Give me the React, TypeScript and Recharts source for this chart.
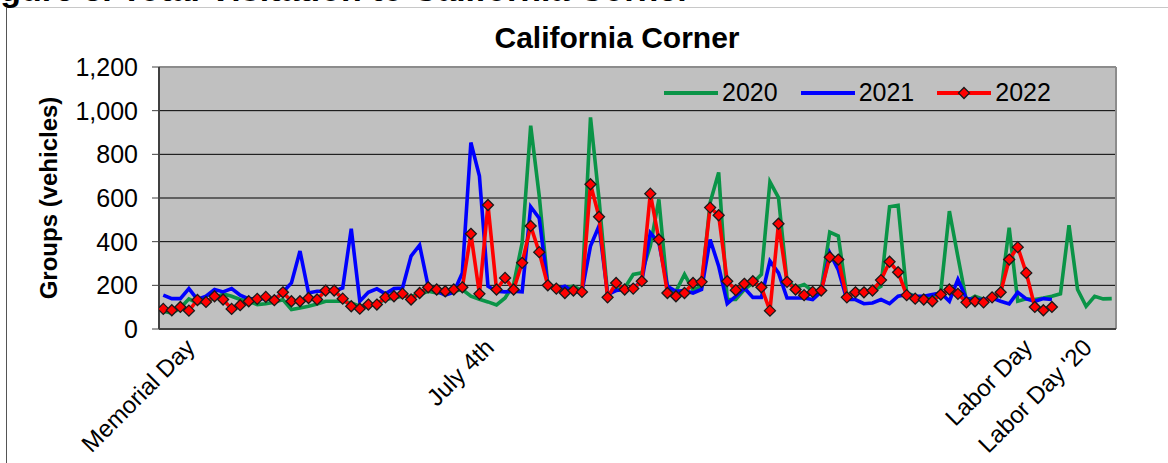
import { LineChart, Line, XAxis, YAxis, CartesianGrid, ReferenceLine, Legend } from "recharts";

// visitor groups per day, day 0 = Memorial Day
const visits2020 = [
  81, 73, 96, 138, 119, 127, 142, 161, 150, 135, 127, 112, 116, 122, 135, 89, 96, 104, 114, 127,
  127, 127, 119, 104, 107, 119, 135, 142, 150, 150, 158, 173, 165, 168, 173, 181, 150, 136, 124, 110,
  142, 204, 395, 931, 609, 204, 181, 188, 196, 176, 969, 594, 158, 181, 188, 250, 257, 380, 594, 181,
  173, 250, 178, 196, 579, 717, 135, 135, 181, 211, 250, 674, 602, 219, 190, 204, 173, 181, 444, 426,
  150, 181, 165, 173, 196, 560, 566, 165, 150, 138, 142, 173, 540, 330, 127, 150, 135, 135, 161, 464,
  127, 138, 135, 142, 150, 161, 475, 181, 104, 150, 138, 139,
];

const visits2021 = [
  155, 139, 139, 185, 135, 150, 181, 170, 185, 155, 138, 139, 139, 135, 168, 211, 357, 165, 173, 173,
  173, 188, 459, 127, 168, 184, 161, 185, 188, 334, 384, 196, 173, 155, 168, 257, 854, 700, 196, 173,
  170, 173, 170, 560, 507, 196, 185, 196, 170, 173, 380, 472, 158, 176, 181, 188, 219, 441, 395, 196,
  173, 176, 165, 181, 410, 288, 116, 150, 188, 145, 145, 311, 257, 142, 142, 142, 135, 170, 349, 270,
  135, 135, 116, 119, 135, 116, 150, 158, 150, 150, 158, 165, 127, 227, 139, 135, 135, 142, 127, 115,
  168, 138, 127, 139, 135,
];

const visits2022 = [
  92, 86, 101, 84, 133, 124, 150, 135, 92, 109, 127, 138, 147, 132, 168, 127, 127, 142, 135, 176,
  176, 139, 104, 93, 112, 112, 145, 150, 162, 135, 165, 191, 181, 173, 181, 191, 436, 161, 568, 181,
  234, 181, 303, 472, 352, 200, 185, 165, 176, 170, 663, 514, 145, 211, 181, 185, 219, 620, 410, 165,
  150, 165, 211, 216, 556, 521, 219, 178, 207, 219, 191, 84, 482, 216, 181, 155, 170, 176, 329, 318,
  145, 168, 168, 176, 224, 308, 260, 155, 139, 135, 127, 158, 181, 161, 122, 127, 122, 145, 168, 318,
  375, 257, 101, 86, 101,
];

const holidayDays = [0, 35, 98, 105];
const holidayNames = ["Memorial Day", "July 4th", "Labor Day", "Labor Day '20"];
const yTicks = [0, 200, 400, 600, 800, 1000, 1200];

const series = [
  { key: "y2020", name: "2020", color: "#0A9447", marker: false },
  { key: "y2021", name: "2021", color: "#0000FF", marker: false },
  { key: "y2022", name: "2022", color: "#FF0000", marker: true },
];

const data = visits2020.map((v, day) => ({
  day,
  y2020: v,
  y2021: day < visits2021.length ? visits2021[day] : null,
  y2022: day < visits2022.length ? visits2022[day] : null,
}));

const FONT = "'Liberation Sans', Arial, sans-serif";

const Diamond = (props: any) => {
  const { cx, cy } = props;
  if (cx == null || cy == null) return null;
  const r = 5.5;
  return (
    <path
      d={`M${cx},${cy - r}L${cx + r},${cy}L${cx},${cy + r}L${cx - r},${cy}Z`}
      fill="#FF0000"
      stroke="#1a1a1a"
      strokeWidth={1.3}
    />
  );
};

const HolidayTick = (props: any) => {
  const { x, payload } = props;
  const label = holidayNames[holidayDays.indexOf(payload.value)];
  const ax = x + 33;
  const ay = 349;
  return (
    <text
      x={ax}
      y={ay}
      textAnchor="end"
      transform={`rotate(-45 ${ax} ${ay})`}
      fontFamily={FONT}
      fontSize={24}
      fill="#000"
    >
      {label}
    </text>
  );
};

const LegendBox = () => (
  <div style={{ display: "flex", alignItems: "center", fontFamily: FONT, fontSize: 25, color: "#000" }}>
    {series.map((s) => (
      <div key={s.key} style={{ display: "flex", alignItems: "center", marginRight: 23 }}>
        <svg width={54} height={16}>
          <line x1={0} y1={8} x2={54} y2={8} stroke={s.color} strokeWidth={4} />
          {s.marker && <Diamond cx={27} cy={8} />}
        </svg>
        <span style={{ marginLeft: 4 }}>{s.name}</span>
      </div>
    ))}
  </div>
);

export default function App() {
  return (
    <div
      style={{
        position: "absolute",
        left: 0,
        top: 0,
        width: 1168,
        height: 463,
        background: "#fff",
        overflow: "hidden",
      }}
    >
      <div
        style={{
          position: "absolute",
          left: 6,
          top: 7,
          width: 1200,
          height: 500,
          borderLeft: "1px solid #555",
          borderTop: "1px solid #c8c8c8",
        }}
      />
      <div
        style={{
          position: "absolute",
          left: -30,
          top: -30,
          fontFamily: FONT,
          fontWeight: "bold",
          fontSize: 34,
          whiteSpace: "nowrap",
        }}
      >
        Figure 8. Total Visitation to California Corner
      </div>
      <div
        style={{
          position: "absolute",
          left: 0,
          width: 1234,
          top: 21,
          textAlign: "center",
          fontFamily: FONT,
          fontWeight: "bold",
          fontSize: 30,
        }}
      >
        California Corner
      </div>
      <LineChart width={1168} height={463} data={data} margin={{ top: 67, right: 52, bottom: 0, left: 0 }}>
        <CartesianGrid vertical={false} stroke="#000" strokeWidth={1} fill="#C0C0C0" fillOpacity={1} />
        <XAxis
          dataKey="day"
          type="number"
          domain={[-0.5, 111.5]}
          allowDataOverflow
          ticks={holidayDays}
          interval={0}
          tickLine={false}
          axisLine={{ stroke: "#404040", strokeWidth: 2 }}
          height={134}
          tick={<HolidayTick />}
        />
        <YAxis
          domain={[0, 1200]}
          ticks={yTicks}
          width={159}
          tickSize={7}
          tickMargin={14}
          tickLine={{ stroke: "#404040" }}
          axisLine={{ stroke: "#404040", strokeWidth: 2 }}
          tick={{ fontFamily: FONT, fontSize: 25, fill: "#000" }}
          tickFormatter={(v: number) => v.toLocaleString("en-US")}
          label={{
            value: "Groups (vehicles)",
            angle: -90,
            position: "insideLeft",
            dx: 43,
            style: { fontFamily: FONT, fontWeight: "bold", fontSize: 24, fill: "#000", textAnchor: "middle" },
          }}
        />
        <ReferenceLine y={1200} stroke="#8c8c8c" strokeWidth={2} />
        <ReferenceLine x={111.5} stroke="#8c8c8c" strokeWidth={2} />
        <Legend
          layout="horizontal"
          verticalAlign="middle"
          align="center"
          content={<LegendBox />}
          wrapperStyle={{ left: 664, top: 78, width: "auto" }}
        />
        {series.map((s) => (
          <Line
            key={s.key}
            dataKey={s.key}
            name={s.name}
            type="linear"
            stroke={s.color}
            strokeWidth={3.6}
            dot={s.marker ? <Diamond /> : false}
            activeDot={false}
            connectNulls={false}
            isAnimationActive={false}
          />
        ))}
      </LineChart>
    </div>
  );
}
